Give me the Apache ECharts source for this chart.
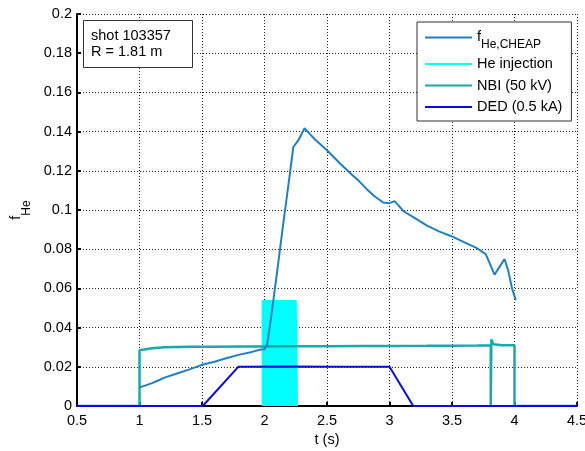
<!DOCTYPE html>
<html><head><meta charset="utf-8">
<script src="https://cdn.jsdelivr.net/npm/echarts@6/dist/echarts.min.js"></script>
<style>html,body{margin:0;padding:0;background:#fff}#c{width:585px;height:451px}</style>
</head><body><div id="c"></div>
<script>
// ---- data ----
const seriesNames = ['fHe', 'He injection', 'NBI (50 kV)', 'DED (0.5 kA)'];
const xRange = [0.5, 4.5, 0.5];   // min, max, tick step (t in s)
const yRange = [0, 0.2, 0.02];    // min, max, tick step (f_He)

// f_He,CHEAP  [t, value]
const fHe = [
  [1.0,0.0095],[1.05,0.0105],[1.1,0.0117],[1.15,0.013],[1.2,0.0145],[1.3,0.0166],
  [1.4,0.0187],[1.5,0.021],[1.6,0.0226],[1.7,0.0245],[1.8,0.0262],[1.9,0.0276],
  [1.97,0.0288],[2.0,0.029],[2.02,0.031],[2.05,0.044],[2.1,0.068],[2.15,0.093],
  [2.2,0.117],[2.23,0.132],[2.27,0.1355],[2.32,0.1417],[2.36,0.139],[2.4,0.1362],
  [2.5,0.1305],[2.6,0.124],[2.7,0.118],[2.76,0.1145],[2.82,0.1105],[2.88,0.107],
  [2.95,0.1038],[3.0,0.1035],[3.04,0.1045],[3.07,0.1025],[3.11,0.0995],[3.2,0.096],
  [3.3,0.092],[3.4,0.089],[3.5,0.0865],[3.6,0.0835],[3.7,0.0805],[3.77,0.0775],
  [3.8,0.073],[3.84,0.067],[3.88,0.071],[3.92,0.075],[3.95,0.069],[3.98,0.06],[4.01,0.054]
];
// He injection (puff window)
const heInj = [
  [1.985,0],[1.985,0.0536],[2.25,0.0536],[2.26,0]
];
// NBI (50 kV)
const nbi = [
  [0.5,0],[1.0,0],[1.0,0.0285],[1.05,0.029],[1.1,0.0295],[1.2,0.030],[1.4,0.0302],
  [1.6,0.0302],[1.8,0.0303],[2.0,0.0304],[2.2,0.0305],[2.5,0.0305],[2.8,0.0306],
  [3.0,0.0306],[3.3,0.0307],[3.5,0.0308],[3.7,0.0309],[3.81,0.031],[3.81,0],
  [3.815,0],[3.815,0.034],[3.83,0.0315],[3.9,0.031],[4.0,0.031],[4.0,0],[4.5,0]
];
// DED (0.5 kA)
const ded = [
  [0.5,0],[1.5,0],[1.52,0.001],[1.79,0.02],[2.2,0.0201],[2.6,0.02],[3.0,0.02],[3.19,0],[4.5,0]
];
const infoText = ['shot 103357', 'R = 1.81 m'];
const xName = 't (s)';

// ---- chart ----
const FONT = '"Liberation Sans", Arial, sans-serif';
const FS = 14.5;
const SUB = 12;
const chart = echarts.init(document.getElementById('c'), null, {renderer: 'canvas'});
const grid = {left: 77, right: 8, top: 14, bottom: 45, outerBoundsMode: 'none', containLabel: false};
const dotted = {color: '#222', width: 1, type: [1, 2]};
const axisCommon = {
  axisLine: {show: true, onZero: false, lineStyle: {color: '#000', width: 2}},
  axisTick: {show: true, inside: true, length: 4, lineStyle: {color: '#000', width: 2}},
  splitLine: {show: true, lineStyle: dotted}
};
const option = {
  animation: false,
  backgroundColor: '#fff',
  grid: grid,
  title: {
    text: infoText.join('\n'), left: 83, top: 20,
    padding: [8, 22, 8, 8], borderColor: '#333', borderWidth: 1, backgroundColor: '#fff',
    textStyle: {fontFamily: FONT, fontSize: FS, fontWeight: 'normal', color: '#000', lineHeight: 16}
  },
  legend: {
    orient: 'vertical', left: 417, top: 22, padding: [2.5, 9, 6, 8],
    icon: 'rect', itemWidth: 47, itemHeight: 2, itemGap: 5.5,
    borderColor: '#333', borderWidth: 1, backgroundColor: '#fff',
    data: seriesNames,
    formatter: n => n === 'fHe' ? '{f|f}{s|He,CHEAP}' : n,
    textStyle: {
      fontFamily: FONT, fontSize: FS, color: '#000', lineHeight: 16,
      rich: {
        f: {fontFamily: FONT, fontSize: FS, color: '#000', lineHeight: 14, padding: [0, 0, 2, 0]},
        s: {fontFamily: FONT, fontSize: SUB, color: '#000', lineHeight: 12, padding: [14, 0, 0, 0]}
      }
    }
  },
  xAxis: Object.assign({
    type: 'value', min: xRange[0], max: xRange[1], interval: xRange[2],
    name: xName, nameLocation: 'middle', nameGap: 24,
    nameTextStyle: {fontFamily: FONT, fontSize: FS, color: '#000'},
    axisLabel: {fontFamily: FONT, fontSize: FS, color: '#000', margin: 7}
  }, axisCommon),
  yAxis: Object.assign({
    type: 'value', min: yRange[0], max: yRange[1], interval: yRange[2],
    name: '{f|f}{s|He}', nameLocation: 'middle', nameGap: 44, nameRotate: 90,
    nameTextStyle: {
      fontFamily: FONT, fontSize: FS, color: '#000',
      rich: {
        f: {fontFamily: FONT, fontSize: FS, color: '#000', lineHeight: 14.5, padding: [0, 0, 4, 0]},
        s: {fontFamily: FONT, fontSize: SUB, color: '#000', lineHeight: 12, padding: [18, 0, 0, 0]}
      }
    },
    axisLabel: {fontFamily: FONT, fontSize: FS, color: '#000', margin: 5,
      formatter: v => String(+v.toFixed(2))}
  }, axisCommon),
  series: [
    {name: seriesNames[0], type: 'line', data: fHe, symbol: 'none', z: 5,
     lineStyle: {color: '#1f80c8', width: 2}, itemStyle: {color: '#1f80c8'}},
    {name: seriesNames[1], type: 'line', data: heInj, symbol: 'none', z: 1,
     lineStyle: {color: '#00ffff', width: 2}, itemStyle: {color: '#00ffff'},
     areaStyle: {color: '#00ffff', opacity: 1}},
    {name: seriesNames[2], type: 'line', data: nbi, symbol: 'none', z: 3,
     lineStyle: {color: '#18aaaa', width: 2.5}, itemStyle: {color: '#18aaaa'}},
    {name: seriesNames[3], type: 'line', data: ded, symbol: 'none', z: 4,
     lineStyle: {color: '#0a0ae6', width: 2}, itemStyle: {color: '#0a0ae6'}}
  ]
};
chart.setOption(option);
</script>
</body></html>
